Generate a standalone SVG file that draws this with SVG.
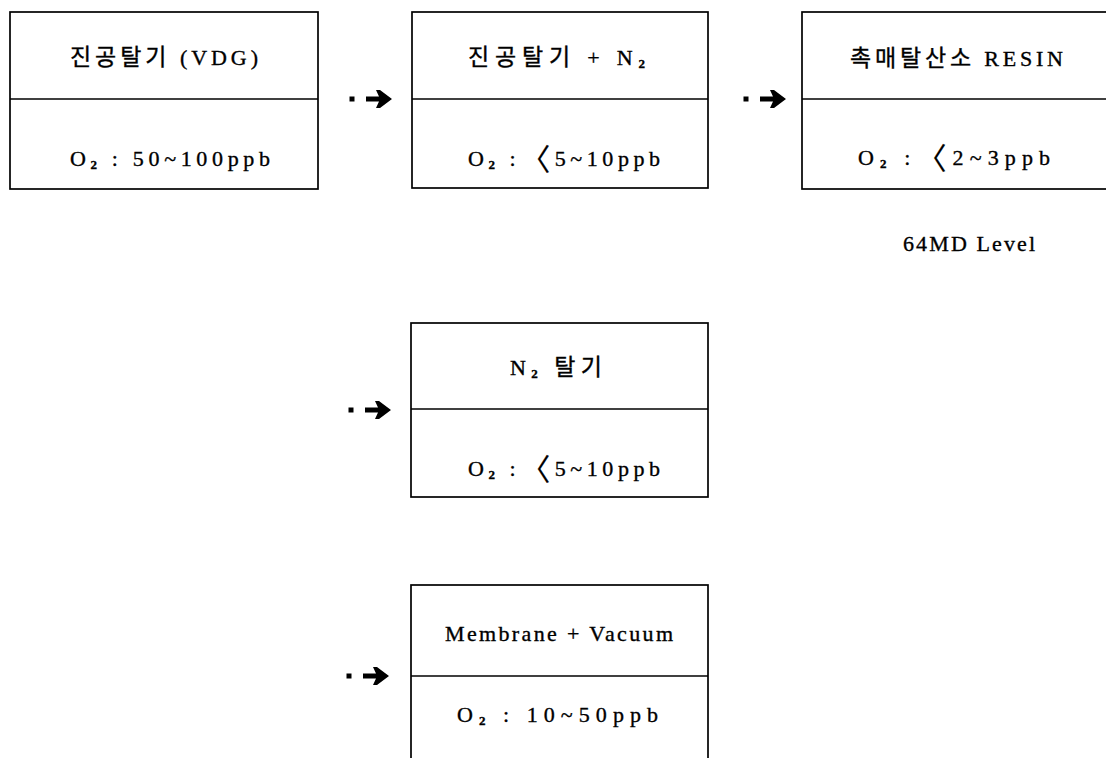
<svg xmlns="http://www.w3.org/2000/svg" width="1106" height="758" viewBox="0 0 1106 758">
<style>
.box{fill:#fff;stroke:#000;stroke-width:1.7}
.div{stroke:#000;stroke-width:1.7}
.t{font-family:"Liberation Serif","Noto Sans CJK KR",serif;font-size:22px;fill:#000;stroke:#000;stroke-width:0.35}
.k{font-size:23px}
.sub{font-size:13px;font-weight:bold}
.br{font-size:30px;stroke-width:0.2}
.arr{fill:#000}
</style>
<defs>
<g id="arrow">
<rect x="-2.5" y="-2.5" width="5" height="5"/>
<path d="M14,-2.5 H27 L24,-9 H28 L40,0 L28,9 H24 L27,2.5 H14 Z"/>
</g>
</defs>
<rect width="1106" height="758" fill="#fff"/>
<g id="connectors" class="arr">
<use href="#arrow" x="352" y="99"/>
<use href="#arrow" x="746" y="99"/>
<use href="#arrow" x="351" y="410"/>
<use href="#arrow" x="349" y="676"/>
</g>
<g id="node1">
<rect class="box" x="10" y="12" width="308" height="177"/>
<line class="div" x1="10" y1="99" x2="318" y2="99"/>
<text class="t" x="70" y="65" textLength="188" lengthAdjust="spacing"><tspan class="k">진공탈기</tspan> (VDG)</text>
<text class="t" x="70" y="166" textLength="200" lengthAdjust="spacing">O<tspan class="sub" dy="3">2</tspan><tspan dy="-3"> : 50~100ppb</tspan></text>
</g>
<g id="node2">
<rect class="box" x="412" y="12" width="296" height="176"/>
<line class="div" x1="412" y1="99" x2="708" y2="99"/>
<text class="t" x="468" y="65" textLength="177" lengthAdjust="spacing"><tspan class="k">진공탈기</tspan> + N<tspan class="sub" dy="3">2</tspan></text>
<text class="t" x="468" y="166" textLength="192" lengthAdjust="spacing">O<tspan class="sub" dy="3">2</tspan><tspan dy="-3"> :</tspan><tspan class="br" dy="4">〈</tspan><tspan dy="-4">5~10ppb</tspan></text>
</g>
<g id="node3">
<rect class="box" x="802" y="12" width="312" height="177"/>
<line class="div" x1="802" y1="99" x2="1114" y2="99"/>
<text class="t" x="850" y="66" textLength="213" lengthAdjust="spacing"><tspan class="k">촉매탈산소</tspan> RESIN</text>
<text class="t" x="858" y="165" textLength="192" lengthAdjust="spacing">O<tspan class="sub" dy="3">2</tspan><tspan dy="-3"> :</tspan><tspan class="br" dy="4">〈</tspan><tspan dy="-4">2~3ppb</tspan></text>
</g>
<text id="label-64md" class="t" x="903" y="251" textLength="132" lengthAdjust="spacing">64MD Level</text>
<g id="node4">
<rect class="box" x="411" y="323" width="297" height="174"/>
<line class="div" x1="411" y1="409" x2="708" y2="409"/>
<text class="t" x="510" y="375" textLength="92" lengthAdjust="spacing">N<tspan class="sub" dy="3">2</tspan><tspan dy="-3"> </tspan><tspan class="k">탈기</tspan></text>
<text class="t" x="468" y="476" textLength="192" lengthAdjust="spacing">O<tspan class="sub" dy="3">2</tspan><tspan dy="-3"> :</tspan><tspan class="br" dy="4">〈</tspan><tspan dy="-4">5~10ppb</tspan></text>
</g>
<g id="node5">
<rect class="box" x="411" y="585" width="297" height="190"/>
<line class="div" x1="411" y1="676" x2="708" y2="676"/>
<text class="t" x="445" y="641" textLength="228" lengthAdjust="spacing">Membrane + Vacuum</text>
<text class="t" x="457" y="722" textLength="201" lengthAdjust="spacing">O<tspan class="sub" dy="3">2</tspan><tspan dy="-3"> :  10~50ppb</tspan></text>
</g>
</svg>
